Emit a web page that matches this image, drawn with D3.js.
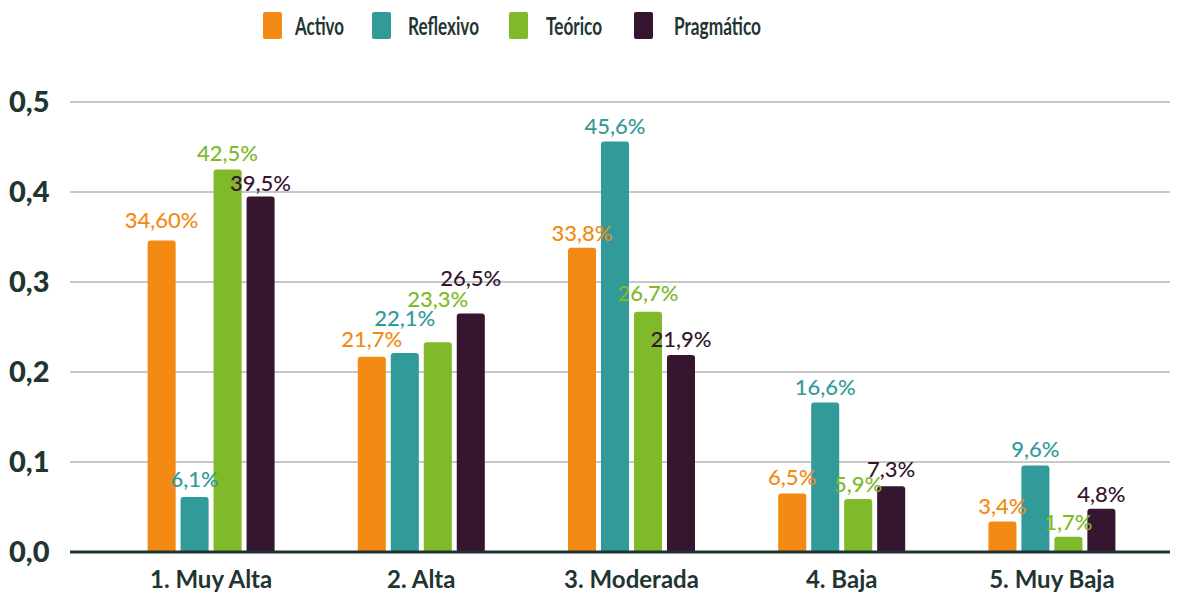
<!DOCTYPE html>
<html>
<head>
<meta charset="utf-8">
<script src="https://cdn.jsdelivr.net/npm/d3@7"></script>
<style>
  body { margin: 0; background: #fff; }
  svg { display: block; font-family: Lato, "Noto Sans", sans-serif; }
</style>
</head>
<body>
<div id="chart"></div>
<script>
'use strict'

const categories = ['1. Muy Alta', '2. Alta', '3. Moderada', '4. Baja', '5. Muy Baja']
const series = ['Activo', 'Reflexivo', 'Teórico', 'Pragmático']
const activo = [0.346, 0.217, 0.338, 0.065, 0.034]
const reflexivo = [0.061, 0.221, 0.456, 0.166, 0.096]
const teorico = [0.425, 0.233, 0.267, 0.059, 0.017]
const pragmatico = [0.395, 0.265, 0.219, 0.073, 0.048]
const labels = [
  ['34,60%', '21,7%', '33,8%', '6,5%', '3,4%'],
  ['6,1%', '22,1%', '45,6%', '16,6%', '9,6%'],
  ['42,5%', '23,3%', '26,7%', '5,9%', '1,7%'],
  ['39,5%', '26,5%', '21,9%', '7,3%', '4,8%']
]
const yTicks = [0, 0.1, 0.2, 0.3, 0.4, 0.5]
const colors = ['#f28a14', '#339a9a', '#80b929', '#351530']

// how far above its bar each label sits (the original staggers a few)
const labelLift = [
  [13, 10, 7, 8.5, 7],
  [10, 27, 8, 8, 9],
  [8.5, 35, 11, 7, 7],
  [5.5, 28, 8, 9, 7]
]

const values = [activo, reflexivo, teorico, pragmatico]
const width = 1177
const height = 593
const ink = '#1f3532'

const svg = d3.select('#chart').append('svg')
  .attr('width', width)
  .attr('height', height)

const y = d3.scaleLinear()
  .domain([0, 0.5])
  .range([552, 102])

const x0 = d3.scaleBand()
  .domain(categories)
  .range([106, 1157])

const groupWidth = 127
const x1 = d3.scaleBand()
  .domain(series)
  .range([0, groupWidth])
  .paddingInner(0.15)

// grid
svg.append('g')
  .selectAll('line')
  .data(yTicks.filter(d => d > 0))
  .enter()
  .append('line')
    .attr('x1', 70)
    .attr('x2', 1170)
    .attr('y1', d => y(d))
    .attr('y2', d => y(d))
    .attr('stroke', '#c8c8c8')
    .attr('stroke-width', 2)

// y labels
svg.append('g')
  .selectAll('text')
  .data(yTicks)
  .enter()
  .append('text')
    .attr('x', 9)
    .attr('y', d => y(d) + 10)
    .attr('fill', ink)
    .style('font-size', '29px')
    .style('font-weight', 900)
    .text(d => d3.format('.1f')(d).replace('.', ','))

function topRounded (x, yTop, w, h, r) {
  r = Math.min(r, h)
  return `M${x},${yTop + h}V${yTop + r}Q${x},${yTop} ${x + r},${yTop}` +
    `H${x + w - r}Q${x + w},${yTop} ${x + w},${yTop + r}V${yTop + h}Z`
}

const groups = svg.selectAll('.grp')
  .data(categories)
  .enter()
  .append('g')
    .attr('class', 'grp')
    .attr('transform', d => `translate(${x0(d) + (x0.bandwidth() - groupWidth) / 2},0)`)

series.forEach(function (s, si) {
  groups.append('path')
    .attr('d', (c, ci) => {
      const v = values[si][ci]
      return topRounded(x1(s), y(v), x1.bandwidth(), y(0) - y(v), 3)
    })
    .attr('fill', colors[si])
})

series.forEach(function (s, si) {
  groups.append('text')
    .attr('x', x1(s) + x1.bandwidth() / 2)
    .attr('y', (c, ci) => y(values[si][ci]) - labelLift[si][ci])
    .attr('text-anchor', 'middle')
    .attr('fill', colors[si])
    .style('font-size', '22px')
    .style('font-weight', 500)
    .text((c, ci) => labels[si][ci])
})

// baseline
svg.append('line')
  .attr('x1', 70)
  .attr('x2', 1170)
  .attr('y1', y(0))
  .attr('y2', y(0))
  .attr('stroke', ink)
  .attr('stroke-width', 3)

// category labels
svg.append('g')
  .selectAll('text')
  .data(categories)
  .enter()
  .append('text')
    .attr('x', d => x0(d) + x0.bandwidth() / 2)
    .attr('y', 588)
    .attr('text-anchor', 'middle')
    .attr('fill', ink)
    .style('font-size', '24px')
    .style('font-weight', 700)
    .text(d => d)

// legend
const legendX = [263, 372, 509, 634]
const legendTextW = [49, 71, 56, 87]
const legend = svg.append('g')
  .selectAll('g')
  .data(series)
  .enter()
  .append('g')
    .attr('transform', (d, i) => `translate(${legendX[i]},12)`)

legend.append('rect')
  .attr('width', 19)
  .attr('height', 27)
  .attr('rx', 2)
  .attr('fill', (d, i) => colors[i])

legend.append('text')
  .attr('x', (d, i) => [32, 36, 37, 40][i])
  .attr('y', 23)
  .attr('fill', ink)
  .attr('textLength', (d, i) => legendTextW[i])
  .attr('lengthAdjust', 'spacingAndGlyphs')
  .style('font-size', '24px')
  .style('font-weight', 700)
  .text(d => d)
</script>
</body>
</html>
